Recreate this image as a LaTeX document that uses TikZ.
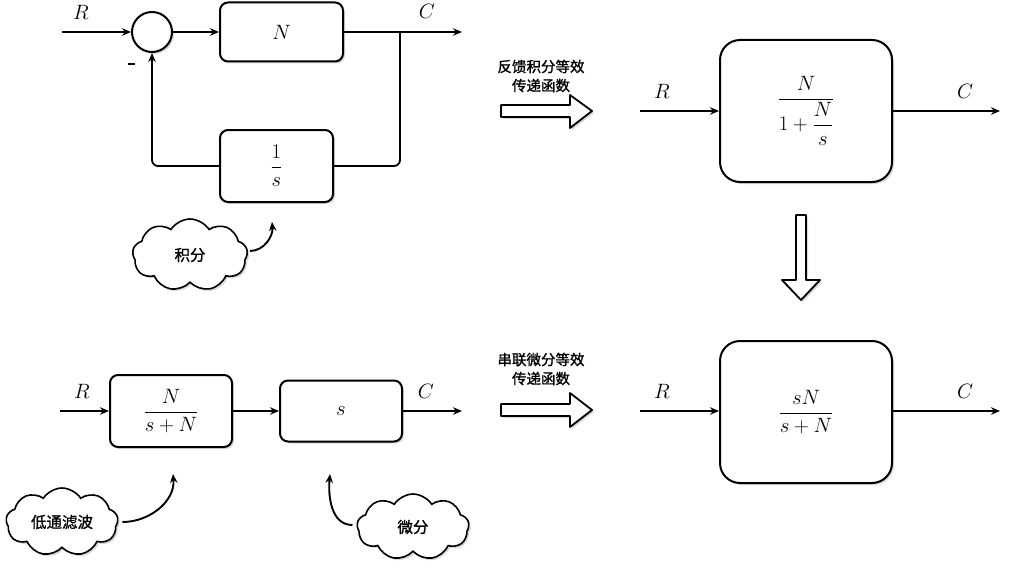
\documentclass[tikz,border=0pt]{standalone}
\usepackage{fix-cm}
\usepackage{fontspec}
\usepackage{amsmath}
\newfontfamily\cjk[FakeBold=1.2]{Noto Sans CJK SC}
\usetikzlibrary{arrows.meta,shapes.symbols,shadows}

\tikzset{
  myshadow/.style={drop shadow={opacity=0.3,shadow xshift=2pt,shadow yshift=-2pt}},
  blk/.style={draw, line width=2pt, rounded corners=8pt, fill=white, myshadow,
    inner sep=0pt, font=\fontsize{20.74}{25}\selectfont},
  bigblk/.style={blk, rounded corners=20pt},
  sumnode/.style={draw, circle, line width=2pt, fill=white, myshadow, inner sep=0pt, minimum size=40pt},
  sig/.style={line width=1.8pt, -{Stealth[length=9pt,width=7.5pt]}},
  wire/.style={line width=1.8pt},
  lbl/.style={font=\fontsize{20.74}{25}\selectfont, inner sep=0pt},
  cloudnote/.style={cloud, cloud puffs=9, cloud puff arc=115, cloud ignores aspect, draw, line width=1.6pt,
    fill=white, myshadow, font=\cjk\fontsize{15.5}{18}\selectfont},
  note/.style={line width=1.9pt, -{Stealth[length=9pt,width=7.5pt]}},
  fatarrow/.style={draw, line width=1.8pt, fill=white, line join=round, myshadow},
  arrowtxt/.style={font=\cjk\fontsize{14.5}{19}\selectfont, align=center, inner sep=0pt},
}

\begin{document}
\begin{tikzpicture}[x=1pt,y=-1pt]
\useasboundingbox (0,0) rectangle (1022,578);

% ---------- top-left: feedback loop ----------
\node[sumnode] (sum) at (152,32) {};
\node[blk, minimum width=123pt, minimum height=59pt] (N) at (281.5,32) {$N$};
\node[blk, minimum width=113pt, minimum height=72pt] (I) at (276.5,166) {$\dfrac{1}{s}$};
\coordinate (in1) at (62,32);
\coordinate (out1) at (462,32);
\coordinate (br1) at (400,32);
\node[lbl] (R1) at (81,12) {$R$};
\node[lbl] (C1) at (427,11) {$C$};
\node[inner sep=0pt] (minus) at (131,64) {\rule{7pt}{2.8pt}};
\draw[sig] (in1) -- (sum.west);
\draw[sig] (sum.east) -- (N.west);
\draw[sig] (N.east) -- (out1);
\draw[wire, rounded corners=6pt] (br1) |- (I.east);
\draw[sig, rounded corners=6pt] (I.west) -| (sum.south);

\node[cloudnote, minimum width=115pt, minimum height=72pt] (cl1) at (190,255) {积分};
\coordinate (t1) at (272,222);
\draw[note] (cl1.east) ++(2,-4) coordinate (s1) to[out=0,in=-85] (t1);

% ---------- arrow 1 ----------
\node[arrowtxt] (txt1) at (541,76) {反馈积分等效\\传递函数};
\coordinate (a1) at (501,111);
\draw[fatarrow] (a1) ++(0,-6) -- ++(69,0) -- ++(0,-10) -- ++(22,16) -- ++(-22,17) -- ++(0,-11) -- ++(-69,0) -- cycle;

% ---------- top-right ----------
\node[bigblk, minimum width=172pt, minimum height=142pt] (B1) at (806,111) {$\dfrac{N}{1+\dfrac{N}{s}}$};
\coordinate (in2) at (640,111);
\coordinate (out2) at (1000,111);
\draw[sig] (in2) -- (B1.west);
\draw[sig] (B1.east) -- (out2);
\node[lbl] (R2) at (662,91) {$R$};
\node[lbl] (C2) at (965,91) {$C$};

% ---------- down arrow ----------
\coordinate (d1) at (801,215);
\draw[fatarrow] (d1) ++(-5,0) -- ++(10,0) -- ++(0,65) -- ++(14,0) -- ++(-19,20) -- ++(-19,-20) -- ++(14,0) -- cycle;

% ---------- bottom-left: cascade ----------
\node[blk, minimum width=122pt, minimum height=72pt] (F) at (171,411) {$\dfrac{N}{s+N}$};
\node[blk, minimum width=122pt, minimum height=61pt] (D) at (341,411) {$s$};
\coordinate (in3) at (60,411);
\coordinate (out3) at (462,411);
\draw[sig] (in3) -- (F.west);
\draw[sig] (F.east) -- (D.west);
\draw[sig] (D.east) -- (out3);
\node[lbl] (R3) at (82,391) {$R$};
\node[lbl] (C3) at (426,391) {$C$};

\node[cloudnote, minimum width=112pt, minimum height=68pt] (cl2) at (62,522) {低通滤波};
\coordinate (t2) at (173,474);
\draw[note] (cl2.east) ++(4,0) to[out=0,in=-85] (t2);

\node[cloudnote, minimum width=112pt, minimum height=66pt] (cl3) at (413,527) {微分};
\coordinate (t3) at (330,474);
\draw[note] (cl3.west) ++(-4,-2) to[out=180,in=-95] (t3);

% ---------- arrow 2 ----------
\node[arrowtxt] (txt2) at (541,369) {串联微分等效\\传递函数};
\coordinate (a2) at (501,410);
\draw[fatarrow] (a2) ++(0,-6) -- ++(69,0) -- ++(0,-11) -- ++(22,17) -- ++(-22,17) -- ++(0,-11) -- ++(-69,0) -- cycle;

% ---------- bottom-right ----------
\node[bigblk, minimum width=172pt, minimum height=142pt] (B2) at (806,412) {$\dfrac{sN}{s+N}$};
\coordinate (in4) at (640,411);
\coordinate (out4) at (1000,411);
\draw[sig] (in4) -- (B2.west|-in4);
\draw[sig] (B2.east|-out4) -- (out4);
\node[lbl] (R4) at (662,391) {$R$};
\node[lbl] (C4) at (965,391) {$C$};
\end{tikzpicture}
\end{document}
